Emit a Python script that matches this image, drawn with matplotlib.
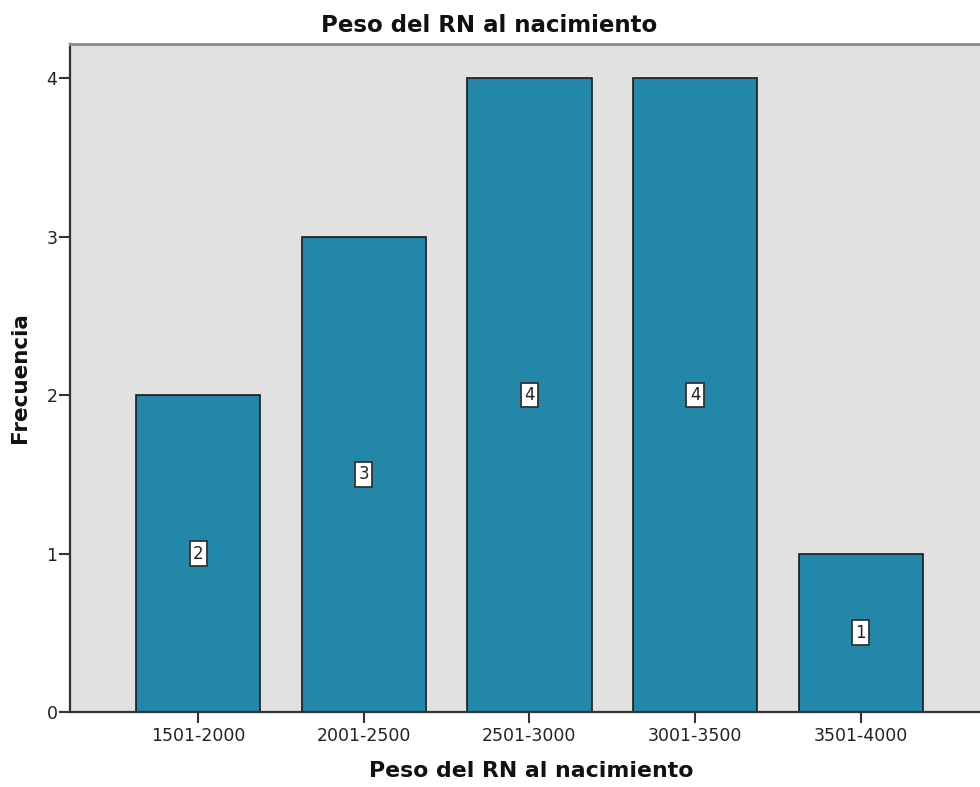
import numpy as np
import matplotlib.pyplot as plt

# datos
categorias = ['1501-2000', '2001-2500', '2501-3000', '3001-3500', '3501-4000']
frecuencias = [2, 3, 4, 4, 1]
titulo = 'Peso del RN al nacimiento'

fig = plt.figure(figsize=(9.8, 7.87), dpi=100)
ax = fig.add_axes([70/980, 1 - 712/787, 1 - 70/980 + 0.01, (712 - 44)/787])
ax.set_facecolor('#e1e1e1')

x = np.arange(len(categorias))
ax.bar(x, frecuencias, width=0.75, color='#2387aa', edgecolor='#1a1a1a', linewidth=1.2, zorder=2)

# etiquetas dentro de las barras
for xi, f in zip(x, frecuencias):
    ax.text(xi, f / 2, str(f), ha='center', va='center', fontsize=12, color='#222222',
            bbox=dict(boxstyle='square,pad=0.2', fc='white', ec='#333333', lw=1.3), zorder=3)

ax.set_xlim(-0.774, 4.78)
ax.set_ylim(0, 4.215)
ax.set_xticks(x)
ax.set_xticklabels(categorias, fontsize=12.5, color='#222222')
ax.set_yticks([0, 1, 2, 3, 4])
ax.set_yticklabels(['0', '1', '2', '3', '4'], fontsize=12.5, color='#222222')
ax.tick_params(axis='both', direction='out', length=8, width=1.5, color='#333333')
ax.tick_params(axis='y', pad=1)
ax.tick_params(axis='x', pad=3)

ax.spines['left'].set_color('#333333')
ax.spines['left'].set_linewidth(1.6)
ax.spines['bottom'].set_color('#333333')
ax.spines['bottom'].set_linewidth(1.6)
ax.spines['top'].set_color('#8a8a8a')
ax.spines['top'].set_linewidth(2)
ax.spines['right'].set_visible(False)

fig.text(489/980, 1 - 25/787, titulo, ha='center', va='center', fontsize=16.5, fontweight='bold', color='#111111')
fig.text(531/980, 1 - 771/787, titulo, ha='center', va='center', fontsize=15.8, fontweight='bold', color='#111111')
fig.text(20/980, 1 - 378/787, 'Frecuencia', ha='center', va='center', rotation=90,
         fontsize=15.5, fontweight='bold', color='#111111')

fig.savefig('out.png', dpi=100)
